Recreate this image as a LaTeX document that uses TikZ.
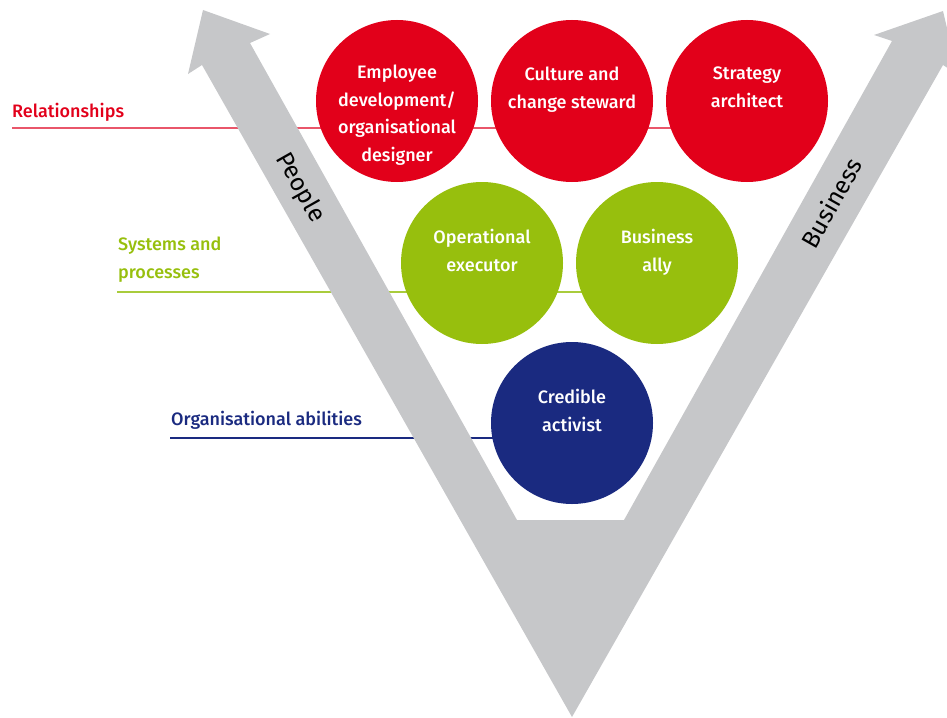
\documentclass[tikz,border=0pt]{standalone}
\usepackage{fontspec}
\IfFontExistsTF{Fira Sans Medium}
  {\setmainfont{Fira Sans Medium}}
  {\setmainfont{Fira Sans}[FakeBold=0.8]}
\newfontfamily\axisfont{Fira Sans}
\begin{document}
\definecolor{hrred}{HTML}{E2001A}
\definecolor{hrredline}{HTML}{E9566A}
\definecolor{hrgreen}{HTML}{97BF0D}
\definecolor{hrgreenline}{HTML}{A9CC3C}
\definecolor{hrnavy}{HTML}{1A2A80}
\definecolor{hrgray}{HTML}{C6C7C9}
\begin{tikzpicture}[x=1pt,y=-1pt,
  role/.style={circle, minimum size=162pt, inner sep=0pt, draw=none},
  roletext/.style={anchor=north, inner sep=0pt, align=center, text=white,
    font=\fontsize{18}{27.5}\selectfont},
  leveltext/.style={anchor=base west, inner sep=0pt, align=left,
    font=\fontsize{18}{28}\selectfont},
  levelrule/.style={line width=1.2pt},
  axistext/.style={inner sep=0pt, font=\axisfont\fontsize{24.5}{28}\selectfont, text=black}]
\useasboundingbox (0,0) rectangle (947,717);

% level rules, running behind the V and the circles
\coordinate (r0) at (12,128);   \coordinate (r1) at (747,128);
\coordinate (g0) at (117,292);  \coordinate (g1) at (657,292);
\coordinate (b0) at (170,438);  \coordinate (b1) at (572,438);
\draw[levelrule, hrredline] (r0) -- (r1);
\draw[levelrule, hrgreenline] (g0) -- (g1);
\draw[levelrule, hrnavy] (b0) -- (b1);

% the grey V made of two arrows
\fill[hrgray] (572,717) -- (202,65) -- (188,74) -- (203,10) -- (270,34)
  -- (250,43) -- (517,520) -- (624,520) -- (892,41) -- (874,35)
  -- (943,11) -- (958,75) -- (943,65) -- cycle;

% role circles
\node[role, fill=hrred]   (emp)  at (397,101) {};
\node[role, fill=hrred]   (cul)  at (572,101) {};
\node[role, fill=hrred]   (str)  at (747,101) {};
\node[role, fill=hrgreen] (ops)  at (482,263) {};
\node[role, fill=hrgreen] (ally) at (657,263) {};
\node[role, fill=hrnavy]  (cred) at (572,423) {};

\node[roletext] (empt)  at ([yshift=36pt]emp.center)  {Employee\\development/\\organisational\\designer};
\node[roletext] (cult)  at ([yshift=34pt]cul.center)  {Culture and\\change steward};
\node[roletext] (strt)  at ([yshift=34pt]str.center)  {Strategy\\architect};
\node[roletext] (opst)  at ([yshift=34pt]ops.center)  {Operational\\executor};
\node[roletext] (allyt) at ([yshift=34pt]ally.center) {Business\\ally};
\node[roletext] (credt) at ([yshift=34pt]cred.center) {Credible\\activist};

% level labels (base anchor sits on the last line)
\node[leveltext, text=hrred]   (rel) at (12,117)  {Relationships};
\node[leveltext, text=hrgreen] (sys) at (118,278) {Systems and\\processes};
\node[leveltext, text=hrnavy]  (org) at (171,425) {Organisational abilities};

% axis labels along the arrows
\node[axistext, rotate=-60.5] (people)   at (300,188) {People};
\node[axistext, rotate=60.5]  (business) at (831,203) {Business};
\end{tikzpicture}
\end{document}
